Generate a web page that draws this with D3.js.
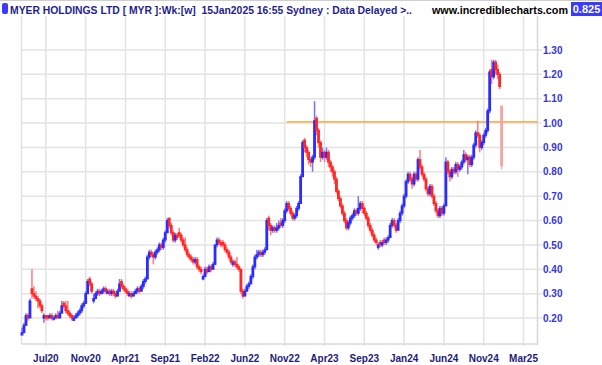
<!DOCTYPE html>
<html><head><meta charset="utf-8">
<script src="https://cdn.jsdelivr.net/npm/d3@7/dist/d3.min.js"></script>
<style>html,body{margin:0;padding:0;background:#fff;}svg{display:block;}</style>
</head><body>
<svg id="c" width="602" height="365"></svg>
<script>
// ---- data (weekly bars) ----
const opens = [
.13,.14,.17,.21,.20,.32,.30,.29,.28,.27,
.25,.20,.21,.21,.20,.21,.195,.20,.21,.20,
.22,.26,.25,.23,.22,.21,.19,.20,.21,.22,
.23,.25,.26,.30,.36,.34,.27,.28,.30,.31,
.30,.31,.32,.30,.31,.30,.31,.30,.29,.31,
.35,.33,.32,.31,.29,.30,.29,.30,.31,.32,
.31,.33,.35,.36,.45,.47,.46,.45,.47,.48,
.50,.49,.52,.55,.61,.58,.55,.52,.54,.55,
.54,.52,.50,.48,.46,.45,.44,.43,.44,.41,
.40,.36,.37,.40,.39,.41,.40,.42,.50,.52,
.51,.51,.50,.48,.47,.45,.42,.43,.42,.41,
.40,.31,.29,.31,.33,.34,.37,.41,.45,.46,
.47,.46,.47,.48,.61,.58,.56,.57,.56,.57,
.59,.58,.60,.64,.67,.65,.63,.61,.62,.65,
.67,.78,.93,.90,.88,.85,.84,.86,1.02,.97,
.92,.86,.88,.86,.88,.84,.82,.80,.77,.72,
.69,.66,.63,.60,.57,.59,.61,.62,.64,.63,
.65,.67,.65,.63,.61,.58,.56,.54,.52,.49,
.51,.50,.52,.51,.52,.53,.58,.60,.58,.56,
.60,.63,.66,.70,.76,.79,.77,.75,.79,.77,
.85,.82,.79,.77,.73,.71,.74,.70,.67,.64,
.62,.65,.63,.66,.84,.80,.78,.81,.80,.83,
.81,.82,.84,.87,.85,.86,.83,.86,.91,.96,
.95,.90,.92,.95,.97,1.05,1.22,1.19,1.25,1.22,
1.20,1.07];
const highs = [
.16,.18,.22,.22,.28,.40,.33,.31,.29,.28,
.26,.22,.21,.21,.22,.22,.21,.22,.23,.23,
.27,.27,.27,.27,.23,.22,.21,.22,.23,.24,
.26,.27,.31,.36,.37,.35,.30,.31,.32,.32,
.32,.33,.33,.32,.32,.32,.32,.31,.32,.36,
.36,.34,.33,.32,.31,.31,.31,.32,.33,.33,
.34,.36,.37,.46,.48,.48,.47,.48,.49,.51,
.51,.53,.56,.61,.61,.59,.56,.55,.55,.57,
.55,.53,.53,.49,.47,.46,.45,.45,.45,.42,
.41,.38,.41,.41,.42,.42,.43,.50,.53,.53,
.52,.52,.51,.49,.48,.46,.44,.44,.45,.42,
.40,.32,.32,.34,.35,.38,.42,.46,.48,.48,
.48,.48,.49,.61,.62,.59,.58,.58,.59,.60,
.61,.61,.65,.68,.68,.66,.64,.63,.66,.68,
.79,.93,.94,.91,.89,.86,.87,1.09,1.03,.98,
.93,.90,.89,.90,.89,.85,.83,.81,.78,.73,
.70,.67,.64,.61,.60,.62,.63,.65,.65,.70,
.68,.68,.66,.64,.62,.59,.57,.55,.53,.51,
.52,.52,.53,.53,.54,.59,.61,.61,.59,.61,
.64,.67,.71,.77,.80,.80,.78,.80,.80,.86,
.89,.83,.80,.78,.74,.75,.75,.71,.68,.65,
.66,.66,.67,.86,.85,.81,.82,.82,.84,.84,
.83,.85,.89,.88,.87,.87,.87,.92,.97,1.01,
.96,.93,.96,.98,1.06,1.22,1.26,1.26,1.26,1.24,
1.21,1.07];
const lows = [
.13,.14,.17,.19,.20,.28,.28,.27,.24,.24,
.22,.18,.19,.19,.20,.19,.19,.20,.20,.20,
.22,.24,.22,.21,.20,.19,.19,.20,.20,.21,
.22,.24,.26,.30,.33,.30,.26,.28,.29,.29,
.30,.30,.30,.30,.29,.29,.29,.28,.29,.31,
.32,.31,.30,.29,.29,.28,.29,.30,.30,.30,
.31,.32,.34,.36,.44,.45,.42,.44,.46,.47,
.48,.48,.51,.55,.57,.54,.51,.51,.52,.53,
.51,.49,.47,.45,.44,.43,.42,.42,.40,.39,
.38,.355,.37,.38,.39,.39,.40,.42,.49,.50,
.49,.49,.47,.46,.44,.42,.41,.41,.40,.39,
.30,.28,.29,.31,.32,.34,.36,.40,.44,.45,
.45,.45,.46,.48,.56,.54,.55,.55,.55,.56,
.57,.57,.59,.63,.64,.62,.60,.60,.61,.64,
.67,.78,.88,.86,.83,.82,.80,.85,.95,.90,
.84,.85,.84,.85,.82,.80,.78,.75,.71,.68,
.65,.62,.59,.56,.56,.58,.60,.61,.62,.62,
.64,.63,.62,.60,.57,.55,.53,.51,.50,.48,
.49,.49,.50,.50,.51,.53,.57,.57,.55,.56,
.59,.62,.65,.69,.75,.76,.73,.74,.76,.76,
.81,.78,.76,.72,.70,.70,.69,.66,.63,.61,
.61,.62,.62,.66,.79,.76,.77,.79,.79,.78,
.80,.81,.83,.84,.79,.82,.82,.85,.90,.94,
.88,.89,.91,.94,.96,1.04,1.16,1.18,1.20,1.18,
1.14,.81];
const closes = [
.14,.17,.21,.20,.27,.30,.29,.28,.27,.25,
.23,.21,.20,.20,.21,.20,.20,.21,.20,.22,
.25,.25,.23,.22,.21,.20,.20,.21,.22,.23,
.25,.26,.30,.35,.34,.31,.28,.30,.31,.30,
.31,.32,.31,.31,.30,.31,.30,.29,.31,.34,
.33,.32,.31,.30,.30,.29,.30,.31,.32,.31,
.33,.35,.36,.45,.47,.46,.45,.47,.48,.50,
.49,.52,.55,.60,.58,.55,.52,.54,.53,.54,
.52,.50,.48,.46,.45,.44,.43,.44,.41,.40,
.39,.37,.40,.39,.41,.40,.42,.50,.52,.51,
.50,.50,.48,.47,.45,.43,.43,.42,.41,.40,
.31,.29,.31,.33,.34,.37,.41,.45,.46,.47,
.46,.47,.48,.60,.58,.56,.57,.56,.57,.58,
.58,.60,.64,.67,.65,.63,.61,.62,.65,.67,
.78,.92,.90,.88,.85,.84,.86,1.01,.97,.92,
.86,.88,.86,.88,.84,.82,.80,.77,.72,.69,
.66,.63,.60,.57,.59,.61,.62,.64,.63,.65,
.67,.65,.63,.61,.58,.56,.54,.52,.51,.50,
.50,.51,.51,.52,.53,.58,.60,.58,.56,.60,
.63,.66,.70,.76,.79,.77,.75,.79,.77,.85,
.82,.79,.77,.73,.71,.74,.70,.67,.64,.62,
.65,.63,.66,.84,.80,.78,.81,.80,.83,.81,
.82,.84,.87,.85,.86,.83,.86,.91,.96,.95,
.90,.92,.95,.97,1.05,1.21,1.19,1.25,1.22,1.20,
1.15,.825];
const xTickLabels = ["Jul20","Nov20","Apr21","Sep21","Feb22","Jun22","Nov22","Apr23","Sep23","Jan24","Jun24","Nov24","Mar25"];
const yTickValues = [0.2,0.3,0.4,0.5,0.6,0.7,0.8,0.9,1.0,1.1,1.2,1.3];
const levelLineStart = 133;   // bar index where the horizontal level starts
const levelLineValue = 1.005;
const headerTitle = "MYER HOLDINGS LTD [ MYR ]:Wk:[w]  15Jan2025 16:55 Sydney : Data Delayed >..";
const headerSite = "www.incrediblecharts.com";
const lastPrice = "0.825";

// ---- layout ----
const svg = d3.select("#c");
const plotL = 21.5, plotR = 537.5, plotT = 16, plotB = 344;
const x = d3.scaleLinear().domain([0, 252]).range([22, 523.5]);
const y = d3.scaleLinear().domain([0.2, 1.3]).range([318, 50]);
const tickIdx = xTickLabels.map((d, k) => 12 + 20 * k);

// top border
svg.append("line").attr("x1",0).attr("x2",602).attr("y1",0.5).attr("y2",0.5)
  .attr("stroke","#cfcfcf").attr("stroke-width",1);

// grid
const g = svg.append("g");
g.selectAll(".hg").data(yTickValues).join("line")
  .attr("x1", plotL).attr("x2", 542)
  .attr("y1", d => y(d)).attr("y2", d => y(d))
  .attr("stroke", "#e3e3e3").attr("stroke-width", 1.5);
g.selectAll(".vg").data(tickIdx).join("line")
  .attr("x1", d => x(d)).attr("x2", d => x(d))
  .attr("y1", plotT).attr("y2", plotB + 2)
  .attr("stroke", "#e3e3e3").attr("stroke-width", 1.5);
// borders
g.append("line").attr("x1", plotL).attr("x2", plotL).attr("y1", plotT).attr("y2", plotB)
  .attr("stroke", "#e3e3e3").attr("stroke-width", 1.5);
g.append("line").attr("x1", plotR).attr("x2", plotR).attr("y1", plotT).attr("y2", plotB + 1)
  .attr("stroke", "#d8d8d8").attr("stroke-width", 1.5);
g.append("line").attr("x1", plotL).attr("x2", plotR).attr("y1", plotB).attr("y2", plotB)
  .attr("stroke", "#d8d8d8").attr("stroke-width", 1.5);

// level line
svg.append("line").attr("x1", x(levelLineStart)).attr("x2", plotR)
  .attr("y1", y(levelLineValue)).attr("y2", y(levelLineValue))
  .attr("stroke", "#ff9a1a").attr("stroke-width", 1.3);

// bars
const bars = d3.range(closes.length).map(i => ({i, o: opens[i], h: highs[i], l: lows[i], c: closes[i]}));
const last = closes.length - 1;
const up = d => d.c >= d.o;
const bg = svg.append("g");
bg.selectAll(".wick").data(bars).join("line")
  .attr("x1", d => x(d.i)).attr("x2", d => x(d.i))
  .attr("y1", d => y(d.h)).attr("y2", d => y(d.l))
  .attr("stroke", d => d.i === last ? "#ffb0b0" : (up(d) ? "#7474ff" : "#ff7a7a"))
  .attr("stroke-width", 1.5);
bg.selectAll(".body").data(bars).join("rect")
  .attr("x", d => x(d.i) - 1.4).attr("width", 2.8)
  .attr("y", d => y(Math.max(d.o, d.c)) - 0.5)
  .attr("height", d => Math.max(2.2, Math.abs(y(d.o) - y(d.c)) + 1))
  .attr("fill", d => d.i === last ? "#f7a3a3" : (up(d) ? "#2b2bff" : "#ff2626"));

// y labels
svg.selectAll(".yl").data(yTickValues).join("text")
  .attr("x", 543).attr("y", d => y(d) + 3.6)
  .attr("font-family", "Liberation Sans, Arial, sans-serif").attr("font-weight", "bold")
  .attr("font-size", 10).attr("fill", "#3434e6")
  .text(d => d.toFixed(2));

// x labels
svg.selectAll(".xl").data(xTickLabels).join("text")
  .attr("x", (d, k) => x(tickIdx[k])).attr("y", 361.5)
  .attr("text-anchor", "middle")
  .attr("font-family", "Liberation Sans, Arial, sans-serif").attr("font-weight", "bold")
  .attr("font-size", 10).attr("fill", "#1c1c7a")
  .text(d => d);

// header
svg.append("rect").attr("x", 2).attr("y", 3).attr("width", 6).attr("height", 11).attr("rx", 2)
  .attr("fill", "#3b3bff");
svg.append("text").attr("x", 10).attr("y", 13.5)
  .style("white-space", "pre")
  .attr("font-family", "Liberation Sans, Arial, sans-serif").attr("font-weight", "bold")
  .attr("font-size", 11).attr("fill", "#1e1e8c")
  .attr("textLength", 402).attr("lengthAdjust", "spacingAndGlyphs")
  .text(headerTitle);
svg.append("text").attr("x", 432).attr("y", 13.5)
  .attr("font-family", "Liberation Sans, Arial, sans-serif").attr("font-weight", "bold")
  .attr("font-size", 11).attr("fill", "#000")
  .attr("textLength", 136).attr("lengthAdjust", "spacingAndGlyphs")
  .text(headerSite);
svg.append("rect").attr("x", 571).attr("y", 2).attr("width", 31).attr("height", 14)
  .attr("fill", "#3b3bff");
svg.append("text").attr("x", 586.5).attr("y", 13.2).attr("text-anchor", "middle")
  .attr("font-family", "Liberation Sans, Arial, sans-serif").attr("font-weight", "bold")
  .attr("font-size", 11).attr("fill", "#fff")
  .text(lastPrice);
</script>
</body></html>
